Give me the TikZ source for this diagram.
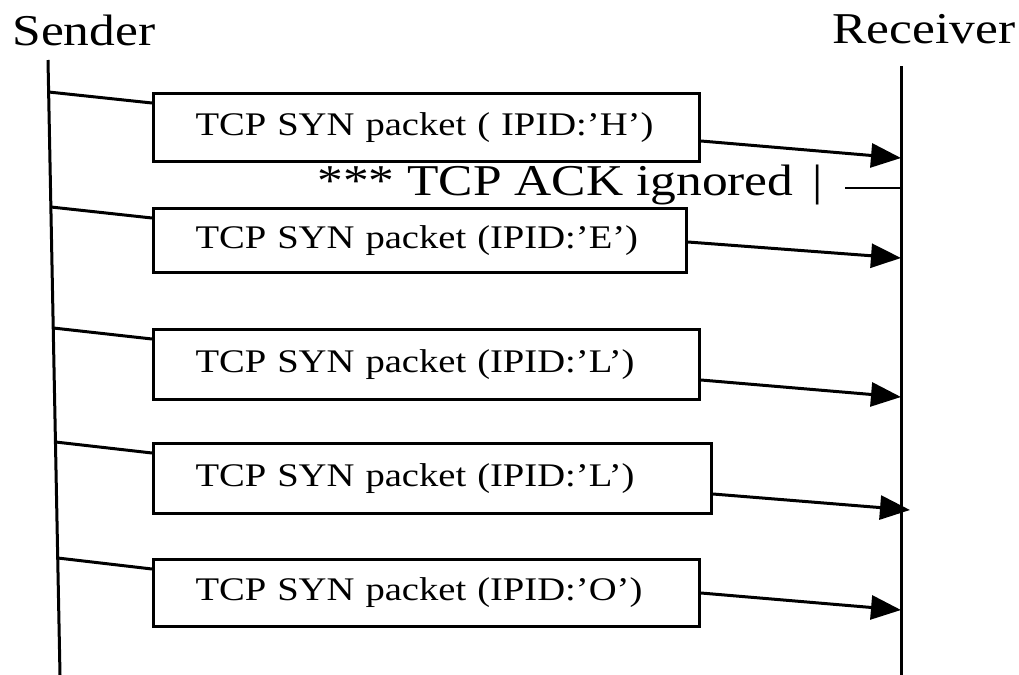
\documentclass[tikz,border=0pt]{standalone}
\usepackage{fontspec}
\setmainfont{Liberation Serif}[FakeStretch=1.17]
\usepackage{tikz}
\usetikzlibrary{arrows.meta,calc}
\tikzset{
  actor/.style={font=\fontsize{22}{24}\selectfont, inner sep=0pt, anchor=base west},
  pkt/.style={rectangle, draw=black, fill=white, line width=1.5pt, inner ysep=0pt, inner xsep=21pt, align=left, anchor=north west, font=\fontsize{16.5}{18}\selectfont},
  life/.style={line width=1.5pt},
  wire/.style={line width=1.5pt},
  thin/.style={line width=1pt},
  arr/.style={-{Triangle[length=15pt,width=12pt]}, line width=1.5pt},
}

\begin{document}
\begin{tikzpicture}[x=0.5pt,y=-0.5pt]
  \useasboundingbox (0,0) rectangle (1019,675);
  % actors and lifelines
  \node[actor] (snd) at (12,45) {Sender};
  \node[actor] (rcv) at (832,43) {Receiver};
  \coordinate (s0) at (48,60);  \coordinate (s1) at (60,675);
  \coordinate (r0) at (901,66); \coordinate (r1) at (901,675);
  \draw[life] (s0) -- (s1);
  \draw[life] (r0) -- (r1);
  % packets
  \foreach \n/\ty/\w/\h/\oy/\iy/\dx/\txt in {1/92/231/34/141/158/0/{TCP SYN packet ( IPID:'H')},
     2/207/224.5/32/242/258/0/{TCP SYN packet (IPID:'E')},3/328/231/35/380/397/0/{TCP SYN packet (IPID:'L')},
     4/442/237/35/494/510/9/{TCP SYN packet (IPID:'L')},5/558/231/33.5/593/610/0/{TCP SYN packet (IPID:'O')}}{
    \node[pkt, text width=\w pt, minimum height=\h pt] (p\n) at (152,\ty) {\txt};
    \draw[wire] ($(s0)!{(\ty-60)/615}!(s1)$) -- (p\n.west |- 0,\ty+11);
    \draw[arr] (p\n.east |- 0,\oy) -- ($(r0 |- 0,\iy)+(\dx,0)$);
  }
  % ignored ack
  \node[actor] (ack) at (317,195) {*** TCP ACK ignored\hspace{3pt} |};
  \coordinate (ackr) at (r0 |- 0,188);
  \draw[thin] ($(ack.east |- ackr)+(22,0)$) -- (ackr);
\end{tikzpicture}
\end{document}
